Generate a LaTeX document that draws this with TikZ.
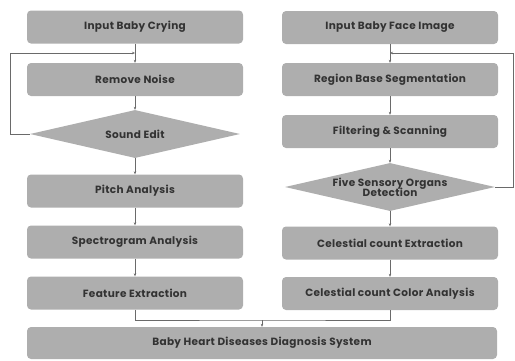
\documentclass[tikz,border=0pt]{standalone}
\usepackage{fontspec}
\setmainfont{Poppins}[LetterSpace=3]
\usepackage{tikz}
\usepackage{xcolor}
\usetikzlibrary{shapes.geometric,arrows.meta}

\definecolor{boxgray}{HTML}{AEAEAE}
\definecolor{textgray}{HTML}{333333}
\definecolor{linegray}{HTML}{6A6A6A}

\begin{document}
\begin{tikzpicture}[x=1pt,y=-1pt,
    procbox/.style={draw=none,fill=boxgray,rounded corners=4pt,minimum width=216pt,minimum height=33pt,
      text=textgray,font=\fontsize{10.5}{11}\selectfont\bfseries,inner sep=0pt},
    decbox/.style={diamond,draw=none,fill=boxgray,aspect=4.4,minimum width=210pt,minimum height=48pt,
      text=textgray,font=\fontsize{10.5}{11}\selectfont\bfseries,inner sep=0pt,align=center},
    flow/.style={draw=linegray,line width=0.5pt,-{Stealth[length=3pt,width=2.5pt]}}]
      \useasboundingbox (0,0) rectangle (515,360);
      % Baby crying column
      \node[procbox] (cry) at (135,27) {Input Baby Crying};
      \node[procbox] (noise) at (135,79.5) {Remove Noise};
      \node[decbox] (sound) at (135,134) {Sound Edit};
      \node[procbox] (pitch) at (135,191) {Pitch Analysis};
      \node[procbox] (spectro) at (135,242) {Spectrogram Analysis};
      \node[procbox] (feature) at (135,293) {Feature Extraction};
      % Baby face column
      \node[procbox] (face) at (390,27.5) {Input Baby Face Image};
      \node[procbox] (region) at (390,79.5) {Region Base Segmentation};
      \node[procbox] (filter) at (390,131.5) {Filtering \& Scanning};
      \node[decbox] (organs) at (390,187) {Five Sensory Organs\\[-2pt]Detection};
      \node[procbox] (extract) at (390,243) {Celestial count Extraction};
      \node[procbox] (color) at (390,293.5) {Celestial count Color Analysis};
      % Diagnosis
      \node[procbox,minimum width=470pt,minimum height=32pt] (diag) at (262,343) {Baby Heart Diseases Diagnosis System};
      % Junctions
      \coordinate (cryjoin) at (135,53);
      \coordinate (facejoin) at (390,53);
      \coordinate (merge) at (262,320);
      % Left flow
      \draw[flow] (cry) -- (noise);
      \draw[flow] (noise) -- (sound);
      \draw[flow] (sound) -- (pitch);
      \draw[flow] (pitch) -- (spectro);
      \draw[flow] (spectro) -- (feature);
      \draw[flow] (sound.west) -- (10,134) -- (10,53) -- (cryjoin);
      % Right flow
      \draw[flow] (face) -- (region);
      \draw[flow] (region) -- (filter);
      \draw[flow] (filter) -- (organs);
      \draw[flow] (organs) -- (extract);
      \draw[flow] (extract) -- (color);
      \draw[flow] (organs.east) -- (513,187) -- (513,53) -- (facejoin);
      % Merge
      \draw[draw=linegray,line width=0.5pt] (feature.south) |- (merge) -| (color.south);
      \draw[flow] (merge) -- (diag);
\end{tikzpicture}
\end{document}
